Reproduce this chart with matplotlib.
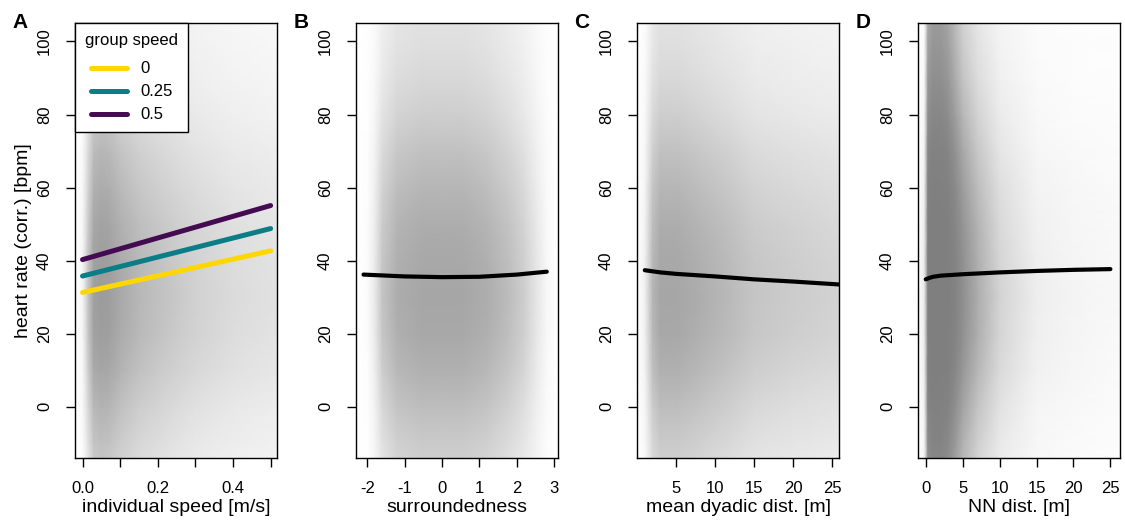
import numpy as np
import matplotlib.pyplot as plt
from matplotlib.colors import LinearSegmentedColormap

plt.rcParams['font.family'] = ['Liberation Sans', 'DejaVu Sans']
plt.rcParams['axes.unicode_minus'] = False

# --- data ---
# heart rate profile of the grey clouds (relative density, by eye)
hr_levels = [-14, -10, 0, 10, 20, 30, 40, 50, 60, 70, 80, 90, 100, 105]
hr_density = [0.40, 0.45, 0.60, 0.80, 0.95, 1.00, 0.95, 0.85, 0.70, 0.55, 0.40, 0.30, 0.24, 0.22]

# A: individual speed
speed_levels = [-0.02, 0.0, 0.015, 0.03, 0.05, 0.07, 0.1, 0.15, 0.2, 0.25, 0.3, 0.4, 0.5, 0.517]
speed_density = [0.0, 0.05, 0.4, 0.9, 1.0, 0.95, 0.75, 0.55, 0.45, 0.37, 0.30, 0.22, 0.18, 0.17]
group_speed = ['0', '0.25', '0.5']
group_colors = ['#FFD700', '#0A7D87', '#450B52']
fit_speed = [0.0, 0.5]
fit_hr_group = [[31.3, 42.7], [35.8, 48.8], [40.3, 55.1]]

# B: surroundedness
surr_levels = [-2.3, -2.0, -1.8, -1.6, -1.2, -0.5, 0.5, 1.2, 1.8, 2.2, 2.5, 2.8, 3.1]
surr_density = [0.0, 0.02, 0.15, 0.5, 0.85, 1.0, 1.0, 0.85, 0.6, 0.4, 0.2, 0.05, 0.0]
fit_surr = [-2.1, -1, 0, 1, 2, 2.8]
fit_surr_hr = [36.2, 35.7, 35.5, 35.6, 36.2, 37.0]

# C: mean dyadic distance
dyad_levels = [0.0, 1.0, 2.0, 3.0, 5.0, 8.0, 12.0, 15.0, 20.0, 25.0, 25.9]
dyad_density = [0.0, 0.1, 0.7, 1.0, 1.0, 0.85, 0.65, 0.5, 0.42, 0.36, 0.34]
fit_dyad = [1, 3, 5, 10, 15, 20, 25.9]
fit_dyad_hr = [37.4, 36.8, 36.4, 35.7, 34.9, 34.3, 33.5]

# D: nearest neighbour distance
nn_levels = [-1.05, -0.2, 0.3, 1.0, 2.0, 3.0, 4.0, 5.0, 7.0, 10.0, 15.0, 20.0, 26.3]
nn_density = [0.0, 0.05, 1.5, 2.0, 2.0, 1.6, 1.0, 0.6, 0.3, 0.12, 0.04, 0.025, 0.015]
fit_nn = [0, 0.5, 1, 2, 5, 10, 15, 20, 25]
fit_nn_hr = [34.9, 35.3, 35.6, 35.9, 36.3, 36.8, 37.2, 37.5, 37.7]

grey_map = LinearSegmentedColormap.from_list('pts', ['#ffffff', '#7f7f7f'])

fig = plt.figure(figsize=(11.25, 5.29), dpi=100)
lefts = [75, 356, 637, 918]
axes = [fig.add_axes([l / 1125, 71 / 529, 202 / 1125, 435.5 / 529]) for l in lefts]


def cloud(ax, xl, xd, k):
    dens = np.outer(hr_density, xd)
    shade = 1 - np.exp(-k * dens)
    ax.pcolormesh(xl, hr_levels, shade, shading='gouraud', cmap=grey_map,
                  vmin=0, vmax=1, zorder=0, rasterized=True)


def style(ax, xlim, xticks, xlabel, letter):
    ax.set_xlim(*xlim)
    ax.set_ylim(-14, 105.2)
    ax.set_xticks(xticks)
    ax.set_yticks([0, 20, 40, 60, 80, 100])
    ax.tick_params(direction='out', length=6.5, width=1, labelsize=12, color='black')
    ax.tick_params(axis='x', pad=10)
    ax.tick_params(axis='y', pad=10)
    for lab in ax.get_yticklabels():
        lab.set_rotation(90)
        lab.set_va('center')
    for s in ax.spines.values():
        s.set_linewidth(1)
    ax.set_xlabel(xlabel, fontsize=14, labelpad=2)
    ax.text(-0.31, 1.0, letter, transform=ax.transAxes, fontsize=15,
            fontweight='bold', ha='left', va='center')


# A
ax = axes[0]
cloud(ax, speed_levels, speed_density, 1.5)
for lbl, col, hr in zip(group_speed, group_colors, fit_hr_group):
    ax.plot(fit_speed, hr, color=col, lw=3.6, solid_capstyle='round', label=lbl)
style(ax, (-0.02, 0.517), [0.0, 0.1, 0.2, 0.3, 0.4, 0.5], 'individual speed [m/s]', 'A')
ax.set_xticklabels(['0.0', '', '0.2', '', '0.4', ''])
ax.set_ylabel('heart rate (corr.) [bpm]', fontsize=14, labelpad=4)
leg = ax.legend(loc='upper left', bbox_to_anchor=(0, 1), borderaxespad=0,
                title='group speed', fontsize=12, title_fontsize=12,
                fancybox=False, edgecolor='black', framealpha=1,
                handlelength=2.2, handletextpad=0.75, labelspacing=0.48,
                alignment='center', borderpad=0.6)
leg.get_frame().set_linewidth(1)
leg._legend_box.sep = 10

# B
ax = axes[1]
cloud(ax, surr_levels, surr_density, 1.2)
ax.plot(fit_surr, fit_surr_hr, color='black', lw=3, solid_capstyle='round')
style(ax, (-2.3, 3.1), [-2, -1, 0, 1, 2, 3], 'surroundedness', 'B')

# C
ax = axes[2]
cloud(ax, dyad_levels, dyad_density, 1.2)
ax.plot(fit_dyad, fit_dyad_hr, color='black', lw=3, solid_capstyle='round')
style(ax, (0.0, 25.9), [5, 10, 15, 20, 25], 'mean dyadic dist. [m]', 'C')

# D
ax = axes[3]
cloud(ax, nn_levels, nn_density, 3.5)
ax.plot(fit_nn, fit_nn_hr, color='black', lw=3, solid_capstyle='round')
style(ax, (-1.05, 26.3), [0, 5, 10, 15, 20, 25], 'NN dist. [m]', 'D')

fig.savefig('out.png', dpi=100)
